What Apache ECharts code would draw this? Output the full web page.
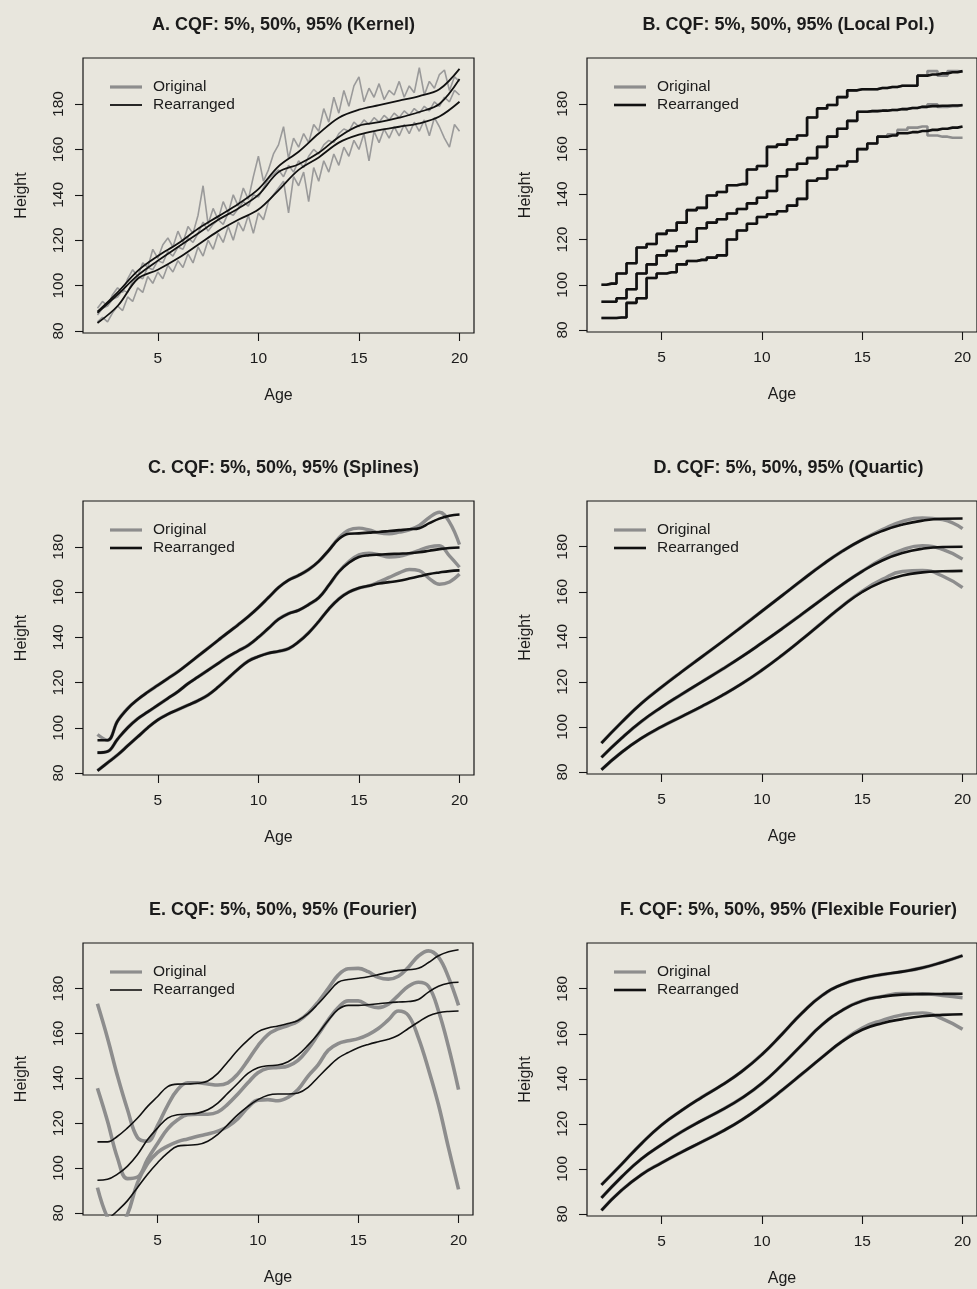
<!DOCTYPE html>
<html><head><meta charset="utf-8">
<script src="https://cdn.jsdelivr.net/npm/echarts@6/dist/echarts.min.js"></script>
<style>html,body{margin:0;padding:0;background:#e8e6dd}#c{width:977px;height:1289px}</style>
</head><body><div id="c"></div><script>
// ---------- data ----------
const X_TICKS = [5, 10, 15, 20];
const Y_TICKS = [80, 100, 120, 140, 160, 180];
const TITLES = [
  'A. CQF: 5%, 50%, 95% (Kernel)',
  'B. CQF: 5%, 50%, 95% (Local Pol.)',
  'C. CQF: 5%, 50%, 95% (Splines)',
  'D. CQF: 5%, 50%, 95% (Quartic)',
  'E. CQF: 5%, 50%, 95% (Fourier)',
  'F. CQF: 5%, 50%, 95% (Flexible Fourier)'
];
const LEGEND_NAMES = ['Original', 'Rearranged'];
const X_NAME = 'Age', Y_NAME = 'Height';

const AGES_INT = [2,3,4,5,6,7,8,9,10,11,12,13,14,15,16,17,18,19,20];
const AGES_HALF = [2,2.5,3,3.5,4,4.5,5,5.5,6,6.5,7,7.5,8,8.5,9,9.5,10,10.5,11,11.5,12,12.5,13,13.5,14,14.5,15,15.5,16,16.5,17,17.5,18,18.5,19,19.5,20];
const AGES_FINE = [2,2.25,2.5,2.75,3,3.25,3.5,3.75,4,4.25,4.5,4.75,5,5.25,5.5,5.75,6,6.25,6.5,6.75,7,7.25,7.5,7.75,8,8.25,8.5,8.75,9,9.25,9.5,9.75,10,10.25,10.5,10.75,11,11.25,11.5,11.75,12,12.25,12.5,12.75,13,13.25,13.5,13.75,14,14.25,14.5,14.75,15,15.25,15.5,15.75,16,16.25,16.5,16.75,17,17.25,17.5,17.75,18,18.25,18.5,18.75,19,19.25,19.5,19.75,20];

// A. Kernel
const A_O95 = [90,93,91,96, 99,97,103,107, 104,110,108,116, 112,118,121,117, 124,119,126,123, 131,144,127,134, 129,137,132,140, 135,143,138,148, 157,146,151,158, 162,170,156,165, 161,167,163,171, 168,178,172,183, 176,186,179,188, 192,181,187,183, 189,182,186,184, 190,183,188,185, 196,184,190,187, 193,195,186,192, 190];
const A_O50 = [87,90,91,94, 95,98,97,102, 104,103,108,107, 111,110,115,113, 117,116,121,119, 123,128,124,127, 129,127,132,131, 134,137,135,140, 139,143,147,149, 151,148,153,150, 155,152,157,160, 158,162,164,163, 167,169,168,172, 170,173,171,174, 172,175,173,176, 174,177,175,178, 176,179,177,181, 179,183,181,186, 184];
const A_O5  = [84,86,84,88, 91,89,95,93, 99,97,104,101, 106,103,109,106, 111,108,114,110, 117,113,120,116, 123,119,126,120, 128,124,131,123, 132,129,137,140, 143,146,132,148, 144,150,137,152, 146,155,150,158, 153,161,157,164, 160,167,155,168, 163,169,165,170, 166,171,167,172, 168,173,166,174, 170,165,161,171, 168];
const A_R95 = [88.5,97,106.5,113,118.5,125,130.5,136,142.5,152.5,159,167,174,177.5,179.5,181.5,183.5,186.5,195.5];
const A_R50 = [88,96,104.5,111,117,123,129,134,140,150,153.5,158.5,165.5,170.5,172,174,176.5,180,191];
const A_R5  = [83.5,91,103,107,112,118,124,129,133.5,142,151,156.5,163,166.5,168.5,170,171.5,174.5,181];

// B. Local polynomial
const B_R95 = [100,100.5,105,109.5, 116.5,118,122.5,124, 127.5,133,134,139.5, 141,144,144.5,151, 152.5,161,162,164.3, 166,174,178,179.5, 183,186,186.5,186.5, 187,187.5,188,188, 192.5,193,193.5,194, 194.5];
const B_O95 = [100,100.5,105,109.5, 116.5,118,122.5,124, 127.5,133,134,139.5, 141,144,144.5,151, 152.5,161,162,164.3, 166,174,178,179.5, 183,186,186.5,186.5, 187,187.5,188,188, 192.5,194.5,192.5,194.5, 194.3];
const B_R50 = [92.5,92.5,94,98, 105,109,113,115, 117,119,125,127.5, 129,131.5,133.5,136, 138.5,141.5,148,151, 153.5,156,161,165.5, 169,172.5,176.5,176.8, 177,177.3,177.7,178.2, 178.7,179,179.2,179.3, 179.4];
const B_O50 = [92.5,92.5,94,98, 105,109,113,115, 117,119,125,127.5, 129,131.5,133.5,136, 138.5,141.5,148,151, 153.5,156,161,165.5, 169,172.5,176.5,176.8, 177,177.3,177.7,178.2, 178.7,179.8,178.6,179, 179.6];
const B_R5  = [85.3,85.3,85.5,92, 94,103,105,105.5, 109,110.5,111,112, 113,120,124,127, 130,131.2,132.5,135, 138,146,147,151, 152.5,154.5,160,162.5, 165.5,166,167,167.5, 168,168.5,169,169.5, 170];
const B_O5  = [85.3,85.3,85.5,92, 94,103,105,105.5, 109,110.5,111,112, 113,120,124,127, 130,131.2,132.5,135, 138,146,147,151, 152.5,154.5,160,162.5, 165.5,166.5,168.5,169.5, 170,166,165.5,165, 165];

// C. Splines
const C_R95 = [94.5,94.5,103,108.5, 112.5,115.8,118.8,121.8, 124.8,128.2,131.7,135.2, 138.7,142.2,145.6,149.2, 153.2,157.6,162,165.3, 167.4,170,173.6,178.5, 183.5,185.8,186,186.3, 186.6,187,187.4,187.8, 188.3,190.5,192.5,193.8, 194.3];
const C_O95 = [97,94.5,103,108.5, 112.5,115.8,118.8,121.8, 124.8,128.2,131.7,135.2, 138.7,142.2,145.6,149.2, 153.2,157.6,162,165.3, 167.4,170,173.6,178.5, 184,187.5,188.3,187.5, 186.2,185.8,186.5,187.5, 189.5,193,195.3,191, 181];
const C_R50 = [89,89.5,95,100, 104,107,110,113, 116,119.5,122.5,125.5, 128.5,131.5,134,136.5, 140,144,148,150.5, 152,154.5,157.5,163, 169,173,175.5,176.3, 176.6,176.8,177,177.2, 177.6,178.3,179,179.5, 179.7];
const C_O50 = [89,89.5,95,100, 104,107,110,113, 116,119.5,122.5,125.5, 128.5,131.5,134,136.5, 140,144,148,150.5, 152,154.5,157.5,163, 169,173.5,176.5,177.2, 176.5,175.5,175.8,177, 178.5,180,180.5,176, 171];
const C_R5  = [81,84.5,88,92, 96,100,103.5,106, 108,110,112,114.5, 118,122,126,129.5, 131.5,133,133.8,135, 138,142,147,152.5, 157,160,161.8,162.8, 163.8,164.4,165,166, 167,168,168.7,169.3, 169.6];
const C_O5  = [81,84.5,88,92, 96,100,103.5,106, 108,110,112,114.5, 118,122,126,129.5, 131.5,133,133.8,135, 138,142,147,152.5, 157,160,161.8,162.8, 164.5,166.5,168.5,170, 169.5,166,163.5,164.5, 168];

// D. Quartic
const D_R95 = [92.8,102,110.5,117.7,124.5,131.1,137.7,144.5,151.4,158.3,165.2,171.9,178,183.1,187,189.8,191.6,192.4,192.5];
const D_O95 = [92.8,102,110.5,117.7,124.5,131.1,137.7,144.5,151.4,158.3,165.2,171.9,178,183.1,187.6,191.3,192.8,192,188];
const D_R50 = [86.5,95,102.5,108.8,114.5,120,125.5,131.2,137.3,143.6,150.1,156.7,163.2,169.1,173.9,177.2,179.1,179.9,180];
const D_O50 = [86.5,95,102.5,108.8,114.5,120,125.5,131.2,137.3,143.6,150.1,156.7,163.2,169.1,174.5,178.6,180.4,178.8,174.5];
const D_R5  = [81,88.7,95,100.1,104.6,109.1,113.9,119.2,125.2,131.8,138.9,146.3,153.6,159.9,164.4,167.2,168.6,169.1,169.3];
const D_O5  = [81,88.7,95,100.1,104.6,109.1,113.9,119.2,125.2,131.8,138.9,146.3,153.6,160.3,165.5,169,169.5,167,161.8];

// E. Fourier
const E_O95 = [173.2,158,141,126, 113.5,112,119,128, 135,138,138,137.5, 137,138,142,148, 154.5,159.5,162,163.5, 165.5,169,174,180, 186,188.8,189,187.5, 185,184.2,185.5,189.5, 194.5,196.8,194,185, 172.5];
const E_O50 = [135.6,121,104.5,95.3, 96,104,111,117.5, 121.5,123.8,124,124, 125,128.5,133,138, 142.5,144.5,144.8,145.5, 148,153,159.5,166, 171.5,174.5,174.5,172.5, 171.5,173,177,181, 182.8,181,170,154, 135];
const E_O5  = [91.3,78,72,79.5, 93.5,102,107,109.8, 111.8,113,114.2,115.2, 116.5,118.5,122,127, 130.3,130.5,130,131.5, 135,141,146,152.5, 155.5,156.7,157.7,159.5, 162.2,166,170,168, 158,144,128.2,109, 90.5];
const E_R95 = [111.7,111.7,114.2,117.9, 122.3,127.5,131.9,136.3, 137.4,137.5,137.8,138.8, 142.2,147.4,152.6,157, 160.7,162.4,163.3,164.4, 165.8,168.8,173.2,178.1, 182.8,184,184.6,185.3, 186.2,187.2,188,188.4, 189,191.6,194.6,196.4, 197.3];
const E_R50 = [94.6,95,97.3,100.9, 106.1,112.7,117.9,122.3, 123.8,124.1,124.5,126, 129,133.4,137.8,142.2, 144.7,145.6,145.9,147.4, 150.4,154.8,159.9,165.8, 170.7,172.5,172.5,172.8, 173.2,173.7,174,174.2, 175.1,178.4,181,182.4, 182.8];
const E_R5  = [73,77,81,85.5, 91.4,97.3,102.4,106.8, 109.8,110.2,110.5,112, 115,119.4,123.8,127.5, 130.5,132.5,133,133, 133.5,136,140.5,145, 149,151.5,153.6,155.1, 156.3,157.4,159.2,162.2, 165.1,167.8,169.2,169.8, 170];

// F. Flexible Fourier
const F_R95 = [92.9,102,111.3,119.5,126,131.8,137.2,143.3,150.8,159.8,169.2,177,181.9,184.6,186.3,187.6,189.3,191.8,194.7];
const F_O95 = [92.9,102,111.3,119.5,126,131.8,137.2,143.3,150.8,159.8,169.2,177,181.9,184.6,186.3,187.6,189.3,191.8,194.7];
const F_R50 = [87.1,96.4,104.5,110.8,116.5,121.5,126.2,131.5,138,146.2,155.2,164,170.4,174.6,176.5,177.4,177.6,177.7,177.8];
const F_O50 = [87.1,96.4,104.5,110.8,116.5,121.5,126.2,131.5,138,146.2,155.2,164,170.4,174.6,176.6,177.9,177.8,177,176];
const F_R5  = [81.6,90.5,97.5,102.7,107.5,112,116.6,121.8,128,134.9,142.2,149.6,156.6,161.8,164.7,166.5,167.8,168.4,168.7];
const F_O5  = [81.6,90.5,97.5,102.7,107.5,112,116.6,121.8,128,134.9,142.2,149.6,156.6,162.6,166,168.4,169.3,166.6,162];

// ---------- layout / styles ----------
const FONT = '"Liberation Sans", Arial, Helvetica, sans-serif';
const INK = '#1b1b1b';
const GRAY = '#8d8d8d';
const PANELS = [
  {box:[83,58,391,275],  ageO:AGES_FINE, ageR:AGES_INT,  orig:[A_O5,A_O50,A_O95], re:[A_R5,A_R50,A_R95], smooth:false, smoothR:0.35, step:false, oW:1.6, oC:'#9a9a9a', rW:1.8},
  {box:[587,58,393,274], ageO:AGES_HALF, ageR:AGES_HALF, orig:[B_O5,B_O50,B_O95], re:[B_R5,B_R50,B_R95], smooth:false, smoothR:false, step:'middle', oW:2.6, oC:GRAY, rW:2.6},
  {box:[83,501,391,274], ageO:AGES_HALF, ageR:AGES_HALF, orig:[C_O5,C_O50,C_O95], re:[C_R5,C_R50,C_R95], smooth:0.4, smoothR:0.4, step:false, oW:3.4, oC:GRAY, rW:2.6},
  {box:[587,501,393,273],ageO:AGES_INT,  ageR:AGES_INT,  orig:[D_O5,D_O50,D_O95], re:[D_R5,D_R50,D_R95], smooth:0.5, smoothR:0.5, step:false, oW:3.4, oC:GRAY, rW:2.6},
  {box:[83,943,390,272], ageO:AGES_HALF, ageR:AGES_HALF, orig:[E_O5,E_O50,E_O95], re:[E_R5,E_R50,E_R95], smooth:0.4, smoothR:0.4, step:false, oW:3.6, oC:GRAY, rW:1.6},
  {box:[587,943,393,273],ageO:AGES_INT,  ageR:AGES_INT,  orig:[F_O5,F_O50,F_O95], re:[F_R5,F_R50,F_R95], smooth:0.5, smoothR:0.5, step:false, oW:3.4, oC:GRAY, rW:2.6}
];
const X_MIN = 1.28, X_MAX = 20.72, Y_MIN = 79.1, Y_MAX = 200.3;

const grids = [], xAxes = [], yAxes = [], series = [], titles = [], graphics = [];
PANELS.forEach((p, i) => {
  const [L, T, W, H] = p.box;
  grids.push({left:L, top:T, width:W, height:H, show:true, borderColor:'#151515', borderWidth:1.2, backgroundColor:'transparent'});
  xAxes.push({type:'value', gridIndex:i, min:X_MIN, max:X_MAX,
    name:X_NAME, nameLocation:'middle', nameGap:55,
    nameTextStyle:{fontSize:16, color:INK, fontFamily:FONT},
    axisLine:{show:false}, splitLine:{show:false},
    axisTick:{show:true, customValues:X_TICKS, length:8, lineStyle:{color:'#151515', width:1.1}},
    axisLabel:{customValues:X_TICKS, fontSize:15.5, color:INK, fontFamily:FONT, margin:18}});
  yAxes.push({type:'value', gridIndex:i, min:Y_MIN, max:Y_MAX,
    name:Y_NAME, nameLocation:'middle', nameGap:53,
    nameTextStyle:{fontSize:16, color:INK, fontFamily:FONT},
    axisLine:{show:false}, splitLine:{show:false},
    axisTick:{show:true, customValues:Y_TICKS, length:8, lineStyle:{color:'#151515', width:1.1}},
    axisLabel:{customValues:Y_TICKS, rotate:90, fontSize:15.5, color:INK, fontFamily:FONT, margin:16}});
  titles.push({text:TITLES[i], left:L + W / 2, top:T - 47, textAlign:'center',
    textStyle:{fontSize:18, fontWeight:'bold', color:INK, fontFamily:FONT}});
  p.orig.forEach(vals => series.push({type:'line', name:LEGEND_NAMES[0], xAxisIndex:i, yAxisIndex:i,
    data:p.ageO.map((a, j) => [a, vals[j]]), symbol:'none', showSymbol:false, silent:true, z:2,
    smooth:p.smooth, step:p.step, lineStyle:{color:p.oC, width:p.oW}, animation:false}));
  p.re.forEach(vals => series.push({type:'line', name:LEGEND_NAMES[1], xAxisIndex:i, yAxisIndex:i,
    data:p.ageR.map((a, j) => [a, vals[j]]), symbol:'none', showSymbol:false, silent:true, z:3,
    smooth:p.smoothR, step:p.step, lineStyle:{color:'#111', width:p.rW}, animation:false}));
  // legend (no box), R-style
  [[GRAY, 3.2, 29], ['#111', p.rW, 47]].forEach(([c, w, dy], k) => {
    graphics.push({type:'line', shape:{x1:L + 27, y1:T + dy, x2:L + 59, y2:T + dy}, style:{stroke:c, lineWidth:w}, silent:true});
    graphics.push({type:'text', x:L + 70, y:T + dy, silent:true,
      style:{text:LEGEND_NAMES[k], fill:INK, font:'15.5px ' + FONT, verticalAlign:'middle', align:'left'}});
  });
});

const chart = echarts.init(document.getElementById('c'), null, {renderer:'canvas'});
chart.setOption({
  backgroundColor:'#e8e6dd', animation:false,
  title:titles, grid:grids, xAxis:xAxes, yAxis:yAxes, series:series, graphic:graphics
});
</script></body></html>
